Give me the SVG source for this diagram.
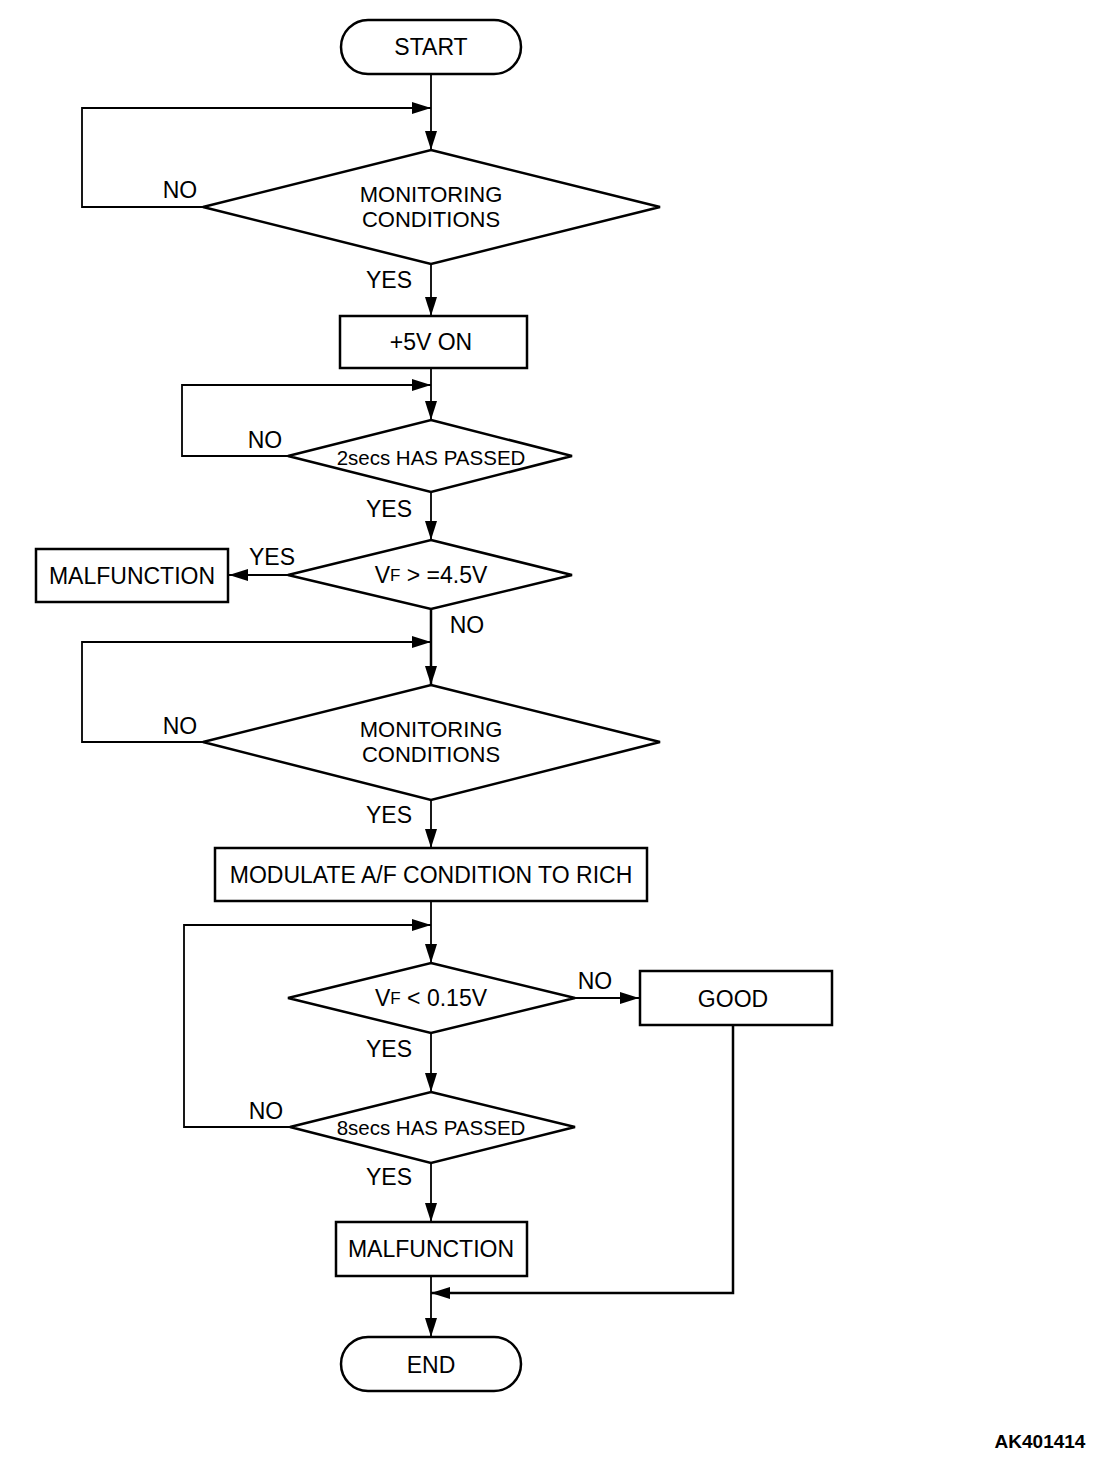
<svg xmlns="http://www.w3.org/2000/svg" width="1120" height="1472" viewBox="0 0 1120 1472">
<style>
.s{fill:#fff;stroke:#000;stroke-width:2.5}
.c{fill:none;stroke:#000;stroke-width:1.8}
.t{font-family:"Liberation Sans",Arial,sans-serif;font-size:23px;fill:#000;text-anchor:middle;dominant-baseline:central}
.m{font-size:22px}
.sm{font-size:20.5px}
.l{font-family:"Liberation Sans",Arial,sans-serif;font-size:23px;fill:#000;text-anchor:middle;dominant-baseline:central}
</style>
<defs>
<marker id="a" viewBox="0 0 19 12" refX="19" refY="6" markerWidth="19" markerHeight="12" markerUnits="userSpaceOnUse" orient="auto">
<path d="M0,0 L19,6 L0,12 Z" fill="#000"/>
</marker>
</defs>
<rect width="1120" height="1472" fill="#fff"/>
<g id="connectors">
<path class="c" d="M431,74 V150" marker-end="url(#a)"/>
<path class="c" d="M203,207 H82 V108 H431" marker-end="url(#a)"/>
<path class="c" d="M431,264 V316" marker-end="url(#a)"/>
<path class="c" d="M431,368 V420" marker-end="url(#a)"/>
<path class="c" d="M288,456 H182 V385 H431" marker-end="url(#a)"/>
<path class="c" d="M431,492 V540" marker-end="url(#a)"/>
<path class="c" d="M288,575 H229" marker-end="url(#a)"/>
<path class="c" d="M431,609 V685" style="stroke-width:2.5" marker-end="url(#a)"/>
<path class="c" d="M203,742 H82 V642 H431" marker-end="url(#a)"/>
<path class="c" d="M431,800 V848" marker-end="url(#a)"/>
<path class="c" d="M431,901 V963" marker-end="url(#a)"/>
<path class="c" d="M290,1127 H184 V925 H431" marker-end="url(#a)"/>
<path class="c" d="M575,998 H639" marker-end="url(#a)"/>
<path class="c" d="M431,1033 V1092" marker-end="url(#a)"/>
<path class="c" d="M431,1163 V1222" marker-end="url(#a)"/>
<path class="c" d="M431,1276 V1337" marker-end="url(#a)"/>
<path class="c" d="M733,1025 V1293 H431" style="stroke-width:2.5" marker-end="url(#a)"/>
<text class="l" x="180" y="190">NO</text>
<text class="l" x="389" y="280">YES</text>
<text class="l" x="265" y="440">NO</text>
<text class="l" x="389" y="509">YES</text>
<text class="l" x="272" y="557">YES</text>
<text class="l" x="467" y="625">NO</text>
<text class="l" x="180" y="726">NO</text>
<text class="l" x="389" y="815">YES</text>
<text class="l" x="595" y="981">NO</text>
<text class="l" x="389" y="1049">YES</text>
<text class="l" x="266" y="1111">NO</text>
<text class="l" x="389" y="1177">YES</text>
</g>
<g id="start"><rect class="s" x="341" y="20" width="180" height="54" rx="27"/><text class="t" x="431" y="47">START</text></g>
<g id="mon1"><polygon class="s" points="431,150 660,207 431,264 203,207"/><text class="t m" x="431" y="194">MONITORING</text><text class="t m" x="431" y="219">CONDITIONS</text></g>
<g id="v5on"><rect class="s" x="340" y="316" width="187" height="52"/><text class="t" x="431" y="342">+5V ON</text></g>
<g id="two"><polygon class="s" points="431,420 572,456 431,492 288,456"/><text class="t sm" x="431" y="457">2secs HAS PASSED</text></g>
<g id="vf45"><polygon class="s" points="431,540 572,575 431,609 288,575"/><text class="t" x="431" y="575">V<tspan font-size="17">F</tspan> &gt; =4.5V</text></g>
<g id="mal1"><rect class="s" x="36" y="549" width="192" height="53"/><text class="t" x="132" y="576">MALFUNCTION</text></g>
<g id="mon2"><polygon class="s" points="431,685 660,742 431,800 203,742"/><text class="t m" x="431" y="729">MONITORING</text><text class="t m" x="431" y="754">CONDITIONS</text></g>
<g id="mod"><rect class="s" x="215" y="848" width="432" height="53"/><text class="t" x="431" y="875">MODULATE A/F CONDITION TO RICH</text></g>
<g id="vf015"><polygon class="s" points="431,963 575,998 431,1033 288,998"/><text class="t" x="431" y="998">V<tspan font-size="17">F</tspan> &lt; 0.15V</text></g>
<g id="good"><rect class="s" x="640" y="971" width="192" height="54"/><text class="t" x="733" y="999">GOOD</text></g>
<g id="eight"><polygon class="s" points="431,1092 575,1127 431,1163 290,1127"/><text class="t sm" x="431" y="1127">8secs HAS PASSED</text></g>
<g id="mal2"><rect class="s" x="336" y="1222" width="191" height="54"/><text class="t" x="431" y="1249">MALFUNCTION</text></g>
<g id="end"><rect class="s" x="341" y="1337" width="180" height="54" rx="27"/><text class="t" x="431" y="1365">END</text></g>
<text x="1040" y="1441" style="font-family:'Liberation Sans',Arial,sans-serif;font-size:19px;font-weight:bold;text-anchor:middle;dominant-baseline:central">AK401414</text>
</svg>
